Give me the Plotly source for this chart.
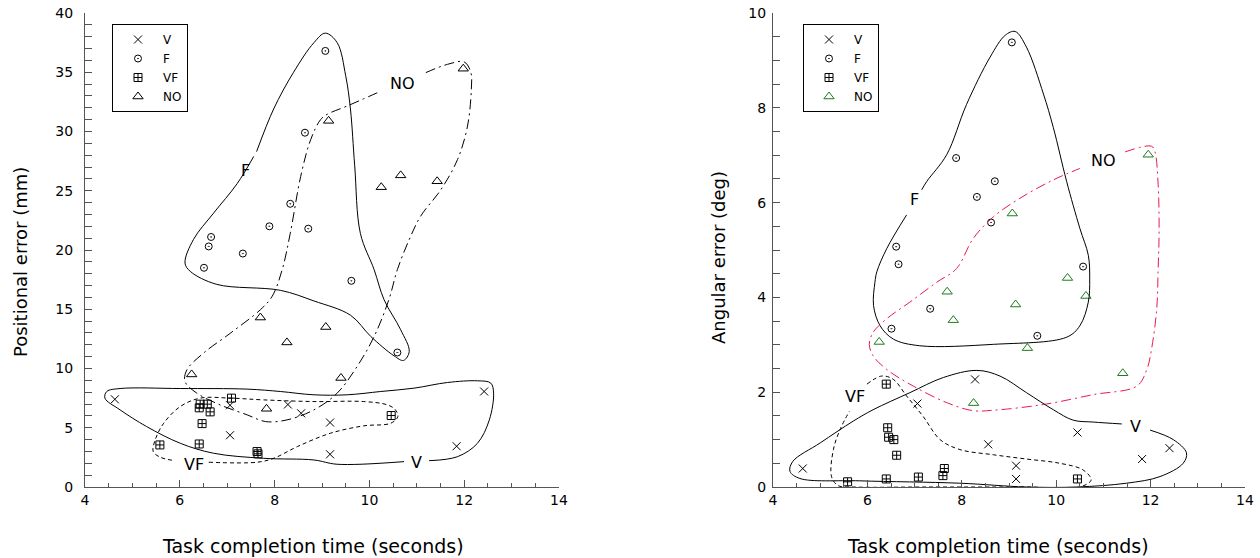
import plotly.graph_objects as go

# ---------------- data: left panel (positional error, mm) ----------------
L_V_x = [4.63, 7.06, 8.28, 8.56, 9.17, 7.06, 9.17, 11.84, 12.42]
L_V_y = [7.4, 6.9, 6.96, 6.22, 5.44, 4.37, 2.76, 3.44, 8.06]
L_F_x = [9.07, 8.64, 8.33, 7.89, 8.71, 6.66, 6.61, 7.33, 6.51, 9.62, 10.59]
L_F_y = [36.8, 29.9, 23.9, 22.0, 21.8, 21.1, 20.3, 19.7, 18.5, 17.4, 11.35]
L_VF_x = [5.58, 6.41, 6.47, 6.41, 6.43, 6.58, 6.64, 7.09, 7.63, 7.65, 10.46]
L_VF_y = [3.55, 3.63, 5.35, 6.68, 6.99, 6.99, 6.34, 7.5, 2.99, 2.8, 6.03]
L_NO_x = [11.98, 9.14, 10.25, 10.66, 11.43, 7.7, 9.08, 8.26, 6.25, 9.4, 7.83]
L_NO_y = [35.3, 30.9, 25.3, 26.3, 25.8, 14.3, 13.5, 12.2, 9.5, 9.2, 6.6]

# ---------------- data: right panel (angular error, deg) ----------------
R_V_x = [8.28, 7.06, 10.45, 8.56, 12.4, 11.82, 9.15, 9.15, 4.63]
R_V_y = [2.27, 1.76, 1.15, 0.9, 0.82, 0.59, 0.45, 0.17, 0.39]
R_F_x = [9.06, 7.88, 8.70, 8.32, 8.62, 6.61, 6.66, 10.57, 7.33, 6.51, 9.6]
R_F_y = [9.38, 6.94, 6.45, 6.12, 5.58, 5.07, 4.70, 4.65, 3.76, 3.34, 3.19]
R_VF_x = [6.40, 6.43, 6.45, 6.56, 6.62, 7.63, 7.6, 7.08, 6.40, 5.58, 10.45]
R_VF_y = [2.17, 1.25, 1.05, 1.0, 0.67, 0.39, 0.24, 0.21, 0.17, 0.11, 0.17]
R_NO_x = [11.95, 9.07, 10.24, 10.63, 7.69, 9.14, 7.82, 6.25, 9.39, 11.41, 8.25]
R_NO_y = [7.01, 5.77, 4.41, 4.03, 4.12, 3.85, 3.52, 3.06, 2.93, 2.40, 1.77]

# ---------------- hand-drawn group outlines ----------------
L_F_cx = [7.56, 7.21, 6.71, 6.29, 6.11, 6.22, 6.78, 8.12, 8.83, 9.60, 10.03, 10.52, 10.72,
          10.84, 10.66, 10.31, 10.10, 9.81, 9.69, 9.60, 9.50, 9.32, 9.07, 8.83, 8.40, 7.98, 7.62]
L_F_cy = [27.9, 25.6, 23.1, 20.9, 18.9, 18.2, 17.1, 16.6, 15.7, 14.5, 12.7, 11.07, 10.68,
          11.44, 13.27, 15.8, 18.34, 21.4, 27.1, 31.9, 34.7, 37.5, 38.3, 37.5, 35.0, 31.9, 28.3]
L_NO_cx = [11.19, 11.65, 12.0, 12.14, 12.15, 12.07, 11.86, 11.51, 11.08, 10.84, 10.59, 10.41,
           10.10, 9.74, 9.32, 8.83, 8.26, 7.81, 7.42, 6.85, 6.36, 6.11, 6.15, 6.50, 7.07, 7.70,
           7.95, 8.16, 8.33, 8.55, 8.76, 8.97, 9.11, 9.53, 10.24]
L_NO_cy = [34.97, 35.67, 35.87, 34.97, 33.56, 30.46, 27.64, 25.1, 22.85, 20.88, 18.34, 15.8,
           12.7, 10.17, 7.92, 6.51, 5.66, 5.52, 6.09, 6.93, 7.92, 8.9, 9.89, 11.3, 12.99, 14.96,
           16.1, 18.34, 21.4, 26.2, 29.3, 31.0, 31.45, 32.15, 33.4]
L_V_cx = [11.26, 11.86, 12.28, 12.53, 12.62, 12.56, 12.28, 11.65, 10.94, 10.24, 9.53, 8.83,
          8.12, 7.42, 6.01, 4.74, 4.46, 4.42, 4.74, 5.30, 6.01, 6.71, 7.77, 8.83, 9.32, 10.73]
L_V_cy = [2.22, 2.56, 3.69, 5.66, 7.92, 8.77, 8.96, 8.82, 8.34, 8.06, 7.78, 7.78,
          8.06, 8.26, 8.31, 8.31, 8.06, 7.5, 6.51, 5.1, 3.69, 2.85, 2.42, 2.28, 1.92, 2.14]
L_VF_cx = [6.61, 7.63, 7.98, 8.48, 9.18, 9.88, 10.45, 10.60, 10.55, 10.38, 9.88, 8.83, 7.77,
           7.07, 6.43, 6.01, 5.66, 5.48, 5.44, 5.59, 5.90]
L_VF_cy = [2.09, 2.09, 2.42, 3.41, 4.54, 5.16, 5.38, 5.94, 6.51, 6.93, 7.21, 7.21, 7.35,
           7.5, 7.5, 6.79, 5.38, 3.97, 2.99, 2.51, 2.22]

R_F_cx = [6.83, 6.41, 6.20, 6.16, 6.13, 6.27, 6.55, 7.11, 8.67, 10.22, 10.50, 10.68, 10.71,
          10.68, 10.50, 10.22, 9.94, 9.73, 9.37, 9.13, 8.92, 8.60, 8.10, 7.68, 7.26, 7.15]
R_F_cy = [5.74, 5.03, 4.54, 4.32, 3.83, 3.40, 3.12, 2.98, 3.01, 3.16, 3.40, 3.90, 4.39,
          4.89, 5.46, 6.45, 7.58, 8.29, 9.28, 9.61, 9.53, 9.07, 8.07, 7.01, 6.45, 6.27]
R_NO_cx = [11.46, 12.02, 12.09, 12.16, 12.18, 12.16, 12.13, 12.02, 11.92, 11.71, 10.79, 9.73,
           8.67, 8.24, 7.68, 6.97, 6.41, 6.12, 6.04, 6.12, 6.41, 6.90, 7.47, 7.89, 8.24, 8.67,
           9.23, 9.94, 10.50]
R_NO_cy = [7.07, 7.19, 7.08, 6.38, 5.39, 4.61, 3.76, 2.91, 2.48, 2.13, 1.95, 1.74,
           1.62, 1.61, 1.78, 2.13, 2.48, 2.77, 3.01, 3.26, 3.55, 3.90, 4.32, 4.61, 5.24, 5.70,
           6.09, 6.48, 6.72]
R_V_cx = [11.99, 12.48, 12.76, 12.69, 12.20, 11.49, 10.43, 9.37, 7.96, 5.84, 4.57, 4.36,
          4.42, 5.0, 5.70, 6.12, 6.90, 7.61, 8.32, 8.81, 9.37, 9.94, 10.36, 10.79, 11.39]
R_V_cy = [1.20, 1.0, 0.72, 0.50, 0.22, 0.08, 0.0, 0.0, 0.08, 0.13, 0.18, 0.33,
          0.54, 0.93, 1.39, 1.63, 1.99, 2.31, 2.46, 2.34, 1.99, 1.63, 1.41, 1.37, 1.33]
R_VF_cx = [5.99, 6.30, 6.55, 6.83, 7.18, 7.54, 7.96, 8.67, 9.37, 10.08, 10.57, 10.74, 10.50,
           9.37, 7.26, 5.70, 5.38, 5.24, 5.28, 5.42, 5.62]
R_VF_cy = [2.17, 2.34, 2.27, 1.92, 1.49, 1.0, 0.79, 0.68, 0.59, 0.50, 0.36, 0.15, 0.0,
           0.0, 0.0, 0.0, 0.03, 0.22, 0.79, 1.21, 1.60]

GROUPS = ["V", "F", "VF", "NO"]
FONT = "DejaVu Sans"
GREEN = "#1E7B1E"
RED = "#EC1A4C"

W, H = 1260, 558
T, B = 13, H - 487
PH = H - T - B

fig = go.Figure()

def markers(xs, ys, name, symbol, size, color, xa, ya, legend):
    fig.add_trace(go.Scatter(
        x=xs, y=ys, mode="markers", name=name, xaxis=xa, yaxis=ya, legend=legend,
        marker=dict(symbol=symbol, size=size, color=color,
                    line=dict(width=1, color=color)),
    ))

def outline(xs, ys, dash, color, xa, ya):
    fig.add_trace(go.Scatter(
        x=xs, y=ys, mode="lines", xaxis=xa, yaxis=ya, showlegend=False,
        hoverinfo="skip",
        line=dict(shape="spline", smoothing=1.0, width=1, color=color, dash=dash),
    ))

sym = {"V": ("x-thin-open", 8), "F": ("circle-open-dot", 7),
       "VF": ("square-cross-open", 8), "NO": ("triangle-up-open", 9)}

left = {"V": (L_V_x, L_V_y), "F": (L_F_x, L_F_y), "VF": (L_VF_x, L_VF_y), "NO": (L_NO_x, L_NO_y)}
right = {"V": (R_V_x, R_V_y), "F": (R_F_x, R_F_y), "VF": (R_VF_x, R_VF_y), "NO": (R_NO_x, R_NO_y)}

for g in GROUPS:
    s, sz = sym[g]
    markers(*left[g], g, s, sz, "black", "x", "y", "legend")
for g in GROUPS:
    s, sz = sym[g]
    markers(*right[g], g, s, sz, GREEN if g == "NO" else "black", "x2", "y2", "legend2")

DASHDOT = "10px,4px,2px,4px"
SHORT = "4px,3px"
outline(L_F_cx, L_F_cy, "solid", "black", "x", "y")
outline(L_NO_cx, L_NO_cy, DASHDOT, "black", "x", "y")
outline(L_V_cx, L_V_cy, "solid", "black", "x", "y")
outline(L_VF_cx, L_VF_cy, SHORT, "black", "x", "y")
outline(R_F_cx, R_F_cy, "solid", "black", "x2", "y2")
outline(R_NO_cx, R_NO_cy, DASHDOT, RED, "x2", "y2")
outline(R_V_cx, R_V_cy, "solid", "black", "x2", "y2")
outline(R_VF_cx, R_VF_cy, SHORT, "black", "x2", "y2")

labels = [("F", 7.38, 26.7, "x", "y"), ("NO", 10.70, 34.07, "x", "y"),
          ("V", 11.0, 2.09, "x", "y"), ("VF", 6.3, 1.94, "x", "y"),
          ("F", 6.99, 6.06, "x2", "y2"), ("NO", 11.0, 6.89, "x2", "y2"),
          ("V", 11.69, 1.28, "x2", "y2"), ("VF", 5.74, 1.90, "x2", "y2")]
for t, x, y, xr, yr in labels:
    fig.add_annotation(text=t, x=x, y=y, xref=xr, yref=yr, showarrow=False,
                       font=dict(family=FONT, size=16, color="black"))

# axis titles (screen px positions -> paper coords)
def px_x(sx):
    return sx / W

def px_y(sy):
    return (487 - sy) / PH

titles = [("Task completion time (seconds)", 312.5, 546, 0, 19),
          ("Task completion time (seconds)", 997.5, 546, 0, 19),
          ("Positional error (mm)", 20, 262, -90, 18),
          ("Angular error (deg)", 718, 258, -90, 18)]
for t, sx, sy, ang, fs in titles:
    fig.add_annotation(text=t, x=px_x(sx), y=px_y(sy), xref="paper", yref="paper",
                       xanchor="center", yanchor="middle", textangle=ang, showarrow=False,
                       font=dict(family=FONT, size=fs, color="black"))

axis_common = dict(
    showline=True, linecolor="#555", linewidth=1, mirror=False,
    ticks="inside", ticklen=7, tickcolor="#555", tickwidth=1,
    showgrid=False, zeroline=False, automargin=False,
    tickfont=dict(family=FONT, size=14, color="black"),
)
xt = dict(range=[4, 14], tick0=4, dtick=2,
          minor=dict(dtick=0.5, ticks="inside", ticklen=4, tickcolor="#555", showgrid=False),
          **axis_common)

leg = dict(xanchor="left", yanchor="top", bgcolor="white", bordercolor="black",
           borderwidth=1, font=dict(family=FONT, size=12, color="black"), itemwidth=40)

fig.update_layout(
    width=W, height=H,
    margin=dict(l=0, r=0, t=T, b=B),
    paper_bgcolor="white", plot_bgcolor="white",
    font=dict(family=FONT, color="black"),
    xaxis=dict(domain=[px_x(85), px_x(559)], anchor="y", **xt),
    xaxis2=dict(domain=[px_x(773), px_x(1245)], anchor="y2", **xt),
    yaxis=dict(range=[0, 40], dtick=5, anchor="x", ticklabelstandoff=8,
               minor=dict(dtick=1, ticks="inside", ticklen=7, tickcolor="#555", showgrid=False),
               **axis_common),
    yaxis2=dict(range=[0, 10], dtick=2, anchor="x2", ticklabelstandoff=3,
                minor=dict(dtick=0.5, ticks="inside", ticklen=7, tickcolor="#555", showgrid=False),
                **axis_common),
    legend=dict(x=px_x(112), y=px_y(24), **leg),
    legend2=dict(x=px_x(803), y=px_y(24), **leg),
)

fig.write_html("out.html", config={"displayModeBar": False},
               post_script="document.body.style.margin='0px';")
